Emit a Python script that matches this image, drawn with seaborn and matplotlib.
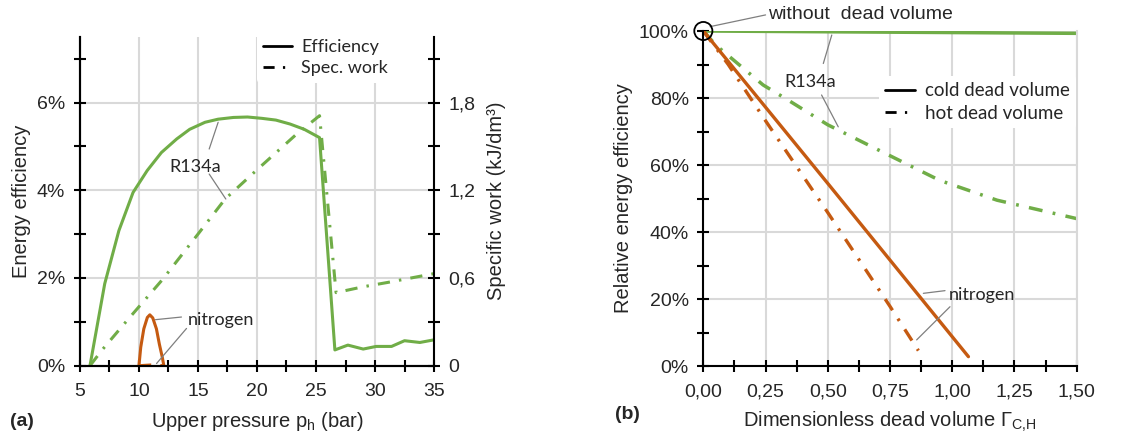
import numpy as np
import pandas as pd
import matplotlib
matplotlib.use("Agg")
import matplotlib.pyplot as plt
import seaborn as sns
from matplotlib.lines import Line2D
from matplotlib.ticker import MultipleLocator, FuncFormatter

#%% data (a): efficiency / specific work vs upper pressure
p_r134a_eff = [5.85, 7.1, 8.3, 9.5, 10.7, 11.9, 13.2, 14.3, 15.6, 16.7, 18.0, 19.2,
               20.4, 21.6, 22.8, 24.0, 25.3, 26.6, 27.7, 29.0, 30.1, 31.4, 32.5, 33.8, 35.0]
eff_r134a = [0.0, 1.87, 3.08, 3.95, 4.45, 4.86, 5.17, 5.39, 5.55, 5.62, 5.66, 5.67,
             5.64, 5.60, 5.51, 5.39, 5.20, 0.36, 0.47, 0.38, 0.44, 0.44, 0.57, 0.53, 0.59]

p_r134a_work = [5.85, 6.9, 9.0, 12.0, 15.0, 17.3, 20.0, 23.3, 25.3, 26.7, 29.0, 31.1, 35.0]
work_r134a = [0.0, 0.11, 0.31, 0.59, 0.90, 1.14, 1.34, 1.58, 1.71, 0.50, 0.54, 0.57, 0.63]

p_n2_eff = [10.0, 10.15, 10.41, 10.71, 10.92, 11.17, 11.48, 11.73, 11.98, 12.11]
eff_n2 = [0.0, 0.42, 0.84, 1.10, 1.16, 1.09, 0.84, 0.49, 0.19, 0.0]

p_n2_work = [10.0, 11.0, 12.11]
work_n2 = [0.0, 0.005, 0.0]

#%% data (b): relative efficiency vs dimensionless dead volume
g_r134a_cold = [0.0, 1.5]
rel_r134a_cold = [100.0, 99.3]

g_r134a_hot = [0.0, 0.05, 0.24, 0.34, 0.5, 0.76, 0.95, 1.18, 1.5]
rel_r134a_hot = [100.0, 95.8, 83.9, 79.4, 72.0, 62.4, 55.4, 49.5, 44.0]

g_n2_cold = [0.0, 0.5, 1.065]
rel_n2_cold = [100.0, 54.5, 2.8]

g_n2_hot = [0.0, 0.1, 0.25, 0.5, 0.75, 0.864]
rel_n2_hot = [100.0, 90.0, 73.2, 45.8, 17.8, 4.6]

ref_x = [0.0]
ref_y = [100.0]

#%% style
sns.set_style("ticks")
plt.rcParams["font.family"] = ["Liberation Sans", "DejaVu Sans"]
plt.rcParams["font.size"] = 14
plt.rcParams["mathtext.default"] = "regular"

GREEN = "#70AD47"
ORANGE = "#C55A11"
GRID = "#D9D9D9"
LEAD = "#7F7F7F"
DASHDOT = (0, (4, 3, 0.8, 3))
CAL = ["Lato", "DejaVu Sans"]

fig = plt.figure(figsize=(11.47, 4.41), dpi=100)
ax1 = fig.add_axes([0.0697, 0.1707, 0.3087, 0.746])
ax2 = ax1.twinx()
ax3 = fig.add_axes([0.6132, 0.170, 0.3255, 0.7597])


def style_ticks(ax, which_axes="both"):
    ax.tick_params(axis=which_axes, which="both", direction="inout", length=9,
                   width=1.5, color="black", labelsize=14)


def leader(ax, xy0, xy1):
    ax.annotate("", xy=xy1, xytext=xy0, annotation_clip=False,
                arrowprops=dict(arrowstyle="-", color=LEAD, lw=0.9, shrinkA=0, shrinkB=0))


#%% (a)
sns.lineplot(x=p_r134a_eff, y=eff_r134a, ax=ax1, color=GREEN, lw=2.2, sort=False, estimator=None)
sns.lineplot(x=p_n2_eff, y=eff_n2, ax=ax1, color=ORANGE, lw=2.2, sort=False, estimator=None)
sns.lineplot(x=p_r134a_work, y=work_r134a, ax=ax2, color=GREEN, lw=2.2, linestyle=DASHDOT,
             sort=False, estimator=None)
sns.lineplot(x=p_n2_work, y=work_n2, ax=ax2, color=ORANGE, lw=2.2, linestyle=DASHDOT,
             sort=False, estimator=None)

ax1.set_xlim(5, 35)
ax1.set_ylim(0, 7.5)
ax2.set_ylim(0, 2.25)
ax1.xaxis.set_major_locator(MultipleLocator(5))
ax1.xaxis.set_minor_locator(MultipleLocator(2.5))
ax1.yaxis.set_major_locator(MultipleLocator(2))
ax1.yaxis.set_minor_locator(MultipleLocator(1))
ax1.yaxis.set_major_formatter(FuncFormatter(lambda v, p: f"{v:.0f}%"))
ax2.yaxis.set_major_locator(MultipleLocator(0.6))
ax2.yaxis.set_minor_locator(MultipleLocator(0.3))
ax2.yaxis.set_major_formatter(FuncFormatter(lambda v, p: "0" if v == 0 else f"{v:.1f}".replace(".", ",")))

ax1.grid(True, which="major", color=GRID, lw=1.5)
ax1.set_axisbelow(True)
for a in (ax1, ax2):
    a.spines["top"].set_visible(False)
    for s in a.spines.values():
        s.set_linewidth(1.5)
        s.set_color("black")
ax1.spines["right"].set_visible(False)
style_ticks(ax1)
style_ticks(ax2, "y")
ax1.tick_params(axis="x", pad=8)
ax1.tick_params(axis="y", pad=6)
ax2.tick_params(axis="y", pad=6)

ax1.set_xlabel("Upper pressure p$_{h}$ (bar)", fontsize=14.5, labelpad=7)
ax1.set_ylabel("Energy efficiency", fontsize=14.5, labelpad=4)
ax2.set_ylabel("Specific work (kJ/dm³)", fontsize=14.5, labelpad=8)

ax1.text(14.74, 4.52, "R134a", family=CAL, fontsize=13, ha="center", va="center")
leader(ax1, (15.95, 4.94), (16.71, 5.55))
leader(ax1, (15.95, 4.37), (17.36, 3.80))
ax1.text(14.17, 1.04, "nitrogen", family=CAL, fontsize=13, ha="left", va="center")
leader(ax1, (13.6, 1.11), (11.4, 1.05))
leader(ax1, (14.03, 0.85), (11.49, 0.05))

hnd = [Line2D([], [], color="black", lw=2), Line2D([], [], color="black", lw=2, linestyle=DASHDOT)]
leg = ax2.legend(hnd, ["Efficiency", "Spec. work"], loc="upper left", bbox_to_anchor=(0.475, 1.04),
                 prop={"family": CAL, "size": 13}, frameon=True, framealpha=1, handlelength=1.6,
                 handletextpad=0.5, labelspacing=0.3, borderpad=0.35)
leg.get_frame().set_edgecolor("none")
leg.get_frame().set_facecolor("white")
fig.text(0.009, 0.045, "(a)", fontsize=14, fontweight="bold", va="center")

#%% (b)
sns.lineplot(x=g_r134a_cold, y=rel_r134a_cold, ax=ax3, color=GREEN, lw=2.5, estimator=None)
sns.lineplot(x=g_r134a_hot, y=rel_r134a_hot, ax=ax3, color=GREEN, lw=2.5, linestyle=DASHDOT, estimator=None)
sns.lineplot(x=g_n2_cold, y=rel_n2_cold, ax=ax3, color=ORANGE, lw=2.4, estimator=None)
sns.lineplot(x=g_n2_hot, y=rel_n2_hot, ax=ax3, color=ORANGE, lw=2.4, linestyle=DASHDOT, estimator=None)
ax3.scatter(ref_x, ref_y, s=170, facecolors="none", edgecolors="black", linewidths=1.3,
            clip_on=False, zorder=5)

ax3.set_xlim(0, 1.5)
ax3.set_ylim(0, 100)
ax3.xaxis.set_major_locator(MultipleLocator(0.25))
ax3.xaxis.set_minor_locator(MultipleLocator(0.125))
ax3.yaxis.set_major_locator(MultipleLocator(20))
ax3.yaxis.set_minor_locator(MultipleLocator(10))
ax3.xaxis.set_major_formatter(FuncFormatter(lambda v, p: f"{v:.2f}".replace(".", ",")))
ax3.yaxis.set_major_formatter(FuncFormatter(lambda v, p: f"{v:.0f}%"))
ax3.grid(True, which="major", color=GRID, lw=1.5)
ax3.set_axisbelow(True)
ax3.spines["top"].set_visible(False)
ax3.spines["right"].set_color(GRID)
ax3.spines["right"].set_linewidth(1.5)
for s in ("left", "bottom"):
    ax3.spines[s].set_linewidth(1.5)
    ax3.spines[s].set_color("black")
style_ticks(ax3)
ax3.tick_params(axis="x", pad=8)
ax3.tick_params(axis="y", pad=6)
ax3.set_xlabel("Dimensionless dead volume Γ$_{C{,}H}$", fontsize=14.5, labelpad=7)
ax3.set_ylabel("Relative energy efficiency", fontsize=14.5, labelpad=4)

ax3.text(0.261, 104.8, "without  dead volume", fontsize=14, ha="left", va="center")
leader(ax3, (0.25, 104.8), (0.027, 101.3))
ax3.text(0.431, 84.9, "R134a", family=CAL, fontsize=13, ha="center", va="center")
leader(ax3, (0.482, 90.3), (0.516, 98.8))
leader(ax3, (0.475, 80.9), (0.542, 71.4))
ax3.text(0.984, 21.2, "nitrogen", family=CAL, fontsize=13, ha="left", va="center")
leader(ax3, (0.971, 22.5), (0.884, 21.7))
leader(ax3, (0.991, 17.7), (0.857, 7.8))

hnd = [Line2D([], [], color="black", lw=2), Line2D([], [], color="black", lw=2, linestyle=DASHDOT)]
leg = ax3.legend(hnd, ["cold dead volume", "hot dead volume"], loc="upper left",
                 bbox_to_anchor=(0.445, 0.895), prop={"family": CAL, "size": 13.5}, frameon=True,
                 framealpha=1, handlelength=1.6, handletextpad=0.5, labelspacing=0.3, borderpad=0.35)
leg.get_frame().set_edgecolor("none")
leg.get_frame().set_facecolor("white")
fig.text(0.536, 0.06, "(b)", fontsize=14, fontweight="bold", va="center")

fig.savefig("out.png", dpi=100)
